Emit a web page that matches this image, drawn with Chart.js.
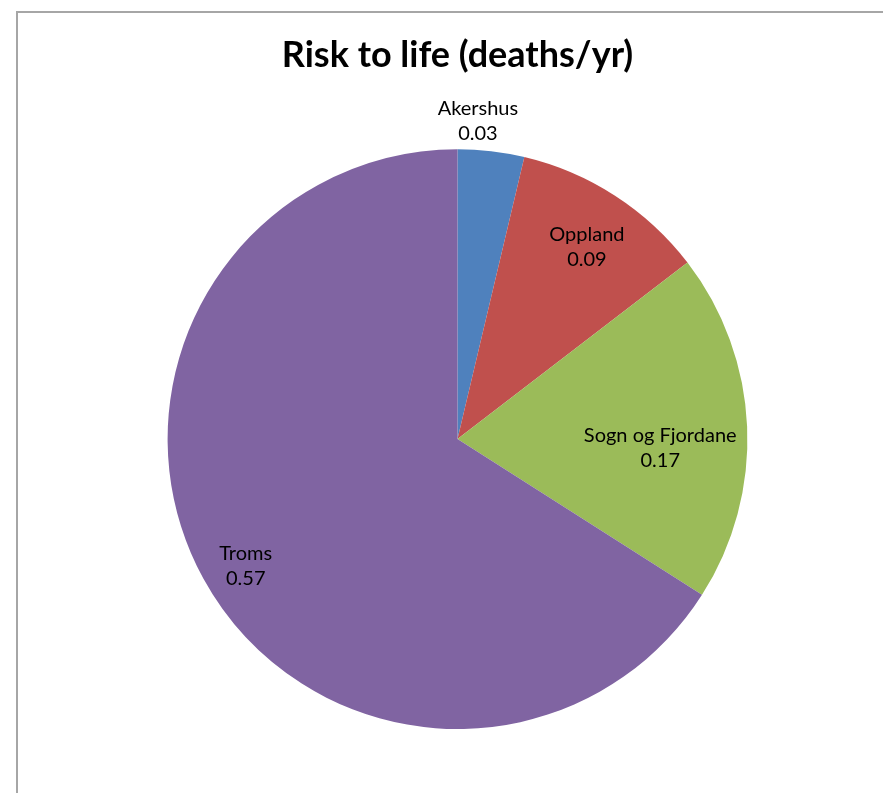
<!DOCTYPE html>
<html>
<head>
<meta charset="utf-8">
<script src="https://cdn.jsdelivr.net/npm/chart.js@4.4.1/dist/chart.umd.min.js"></script>
<style>
    html, body { margin: 0; padding: 0; background: #fff; overflow: hidden; }
    #frame {
        position: absolute; left: 16px; top: 11px;
        width: 900px; height: 800px;
        border: 2px solid #a6a6a6; box-sizing: border-box;
    }
    #wrap { position: absolute; left: 0; top: 0; width: 883px; height: 793px; }
</style>
</head>
<body>
<div id="frame"></div>
<div id="wrap"><canvas id="pieChart"></canvas></div>
<script>
// Chart data
const regions = ['Akershus', 'Oppland', 'Sogn og Fjordane', 'Troms'];
const deathsPerYear = [0.032, 0.094, 0.168, 0.57];
const sliceColors = ['#4F81BD', '#C0504D', '#9BBB59', '#8064A2'];

// Draw the "name / value" labels at each slice, Excel style
const sliceLabels = {
    id: 'sliceLabels',
    afterDatasetsDraw(chart, args, opts) {
        const ctx = chart.ctx;
        const meta = chart.getDatasetMeta(0);
        ctx.save();
        ctx.font = opts.font;
        ctx.fillStyle = '#000';
        ctx.textAlign = 'center';
        ctx.textBaseline = 'middle';
        meta.data.forEach((arc, i) => {
            const p = arc.getProps(['x', 'y', 'startAngle', 'endAngle', 'outerRadius'], true);
            const place = opts.place[i];
            const mid = (p.startAngle + p.endAngle) / 2 + place[1] * Math.PI / 180;
            const r = p.outerRadius * place[0];
            const x = p.x + Math.cos(mid) * r;
            const y = p.y + Math.sin(mid) * r;
            ctx.fillText(chart.data.labels[i], x, y - 12);
            ctx.fillText(chart.data.datasets[0].data[i].toFixed(2), x, y + 13);
        });
        ctx.restore();
    }
};

const ctx = document.getElementById('pieChart').getContext('2d');
const chart = new Chart(ctx, {
    type: 'pie',
    data: {
        labels: regions,
        datasets: [{
            data: deathsPerYear,
            backgroundColor: sliceColors,
            borderWidth: 0
        }]
    },
    options: {
        responsive: true,
        maintainAspectRatio: false,
        animation: false,
        layout: {
            padding: { left: 40, right: 8, top: 0, bottom: 64 }
        },
        plugins: {
            legend: { display: false },
            tooltip: { enabled: false },
            title: {
                display: true,
                text: 'Risk to life (deaths/yr)',
                color: '#000',
                font: { family: 'Lato', size: 36, weight: 'bold', lineHeight: 1.2 },
                padding: { top: 34, bottom: 72 }
            },
            sliceLabels: {
                font: '20px Lato',
                // [radius fraction, angle shift in degrees]
                place: [[1.10, -3], [0.80, 1], [0.70, 5], [0.85, -2]]
            }
        }
    },
    plugins: [sliceLabels]
});
</script>
</body>
</html>
